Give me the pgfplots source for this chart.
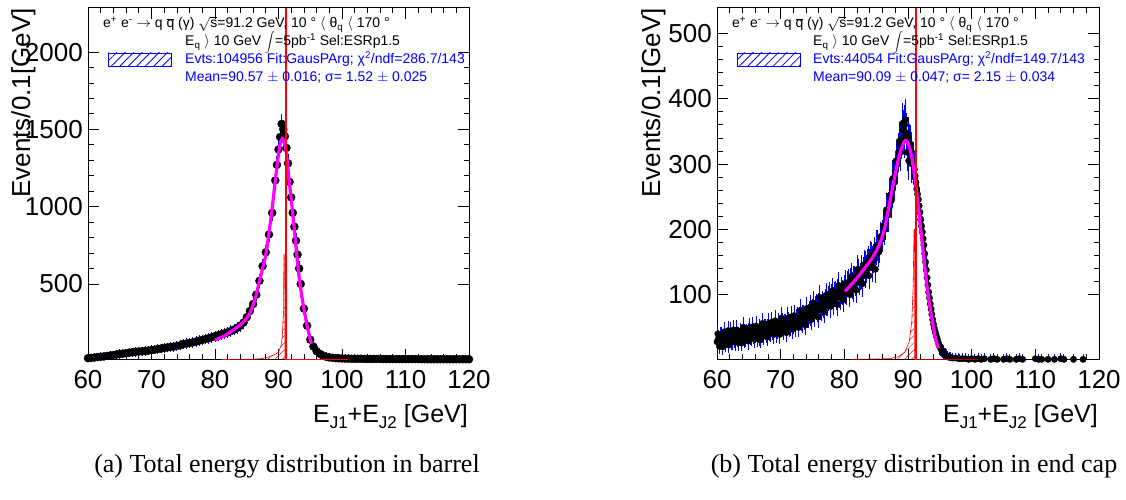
\documentclass[border=0pt]{standalone}
\usepackage{fontspec}
\setmainfont{Liberation Sans}
\newfontfamily\capfont{Liberation Serif}
\usepackage{pgfplots}
\usepackage{pgfplotstable}
\pgfplotsset{compat=1.18}
\usetikzlibrary{patterns,patterns.meta}

\newcommand\tickfont{\fontsize{26}{26}\selectfont}
\newcommand\legfont{\fontsize{14}{14}\selectfont}
\newcommand\labfont{\fontsize{25}{25}\selectfont}
\newcommand\labsub[1]{\raisebox{-6pt}{\fontsize{17}{17}\selectfont #1}}

\pgfplotstableread{
x y
60 20
60.5 22
61 24
61.5 27
62 29
62.5 31
63 34
63.5 37
64 40
64.5 44
65 47
65.5 49
66 52
66.5 55
67 58
67.5 61
68 63
68.5 64
69 66
69.5 69
70 72
70.5 75
71 79
71.5 82
72 86
72.5 89
73 92
73.5 95
74 99
74.5 103
75 112
75.5 114
76 118
76.5 122
77 127
77.5 133
78 138
78.5 143
79 149
79.5 155
80 162
80.5 168
81 174
81.5 180
82 187
82.5 195
83 205
83.5 216
84 230
84.5 250
85 285
85.5 325
86 370
86.5 430
87 520
87.5 615
88 705
88.5 820
89 960
89.5 1170
89.75 1270
90 1370
90.25 1450
90.5 1535
90.75 1500
91 1455
91.25 1380
91.5 1280
91.75 1160
92 1060
92.25 960
92.5 870
92.75 780
93 690
93.25 600
93.5 500
94 340
94.5 230
95 140
95.5 95
96 65
96.5 48
97 36
97.5 29
98 25
98.5 22
99 20
99.5 19
100 18
100.5 17
101 17
101.5 16
102 16
102.5 16
103 16
103.5 15
104 15
104.5 15
105 15
105.5 15
106 15
106.5 14
107 14
107.5 14
108 14
108.5 14
109 14
109.5 14
110 14
110.5 14
111 14
111.5 14
112 14
112.5 13
113 13
113.5 13
114 13
114.5 13
115 13
115.5 13
116 13
116.5 13
117 13
117.5 13
118 13
118.5 13
119 13
119.5 13
120 13
}\barrel

\pgfplotstableread{
x y
60.00 28
60.25 33
60.50 30
60.75 37
61.00 29
61.25 34
61.50 31
61.75 45
62.00 33
62.25 29
62.50 36
62.75 32
63.00 38
63.25 33
63.50 35
63.75 40
64.00 36
64.25 41
64.50 34
64.75 39
65.00 42
65.25 37
65.50 44
65.75 38
66.00 41
66.25 46
66.50 40
66.75 35
67.00 45
67.25 42
67.50 48
67.75 41
68.00 47
68.25 44
68.50 51
68.75 46
69.00 49
69.25 54
69.50 47
69.75 52
70.00 50
70.25 56
70.50 49
70.75 55
71.00 52
71.25 58
71.50 53
71.75 60
72.00 56
72.25 52
72.50 62
72.75 58
73.00 64
73.25 60
73.50 67
73.75 62
74.00 70
74.25 66
74.50 73
74.75 69
75.00 76
75.25 72
75.50 80
75.75 75
76.00 84
76.25 79
76.50 86
76.75 82
77.00 90
77.25 86
77.50 94
77.75 89
78.00 97
78.25 93
78.50 101
78.75 96
79.00 104
79.25 99
79.50 108
79.75 103
80.00 110
80.25 106
80.50 116
80.75 111
81.00 120
81.25 114
81.50 124
81.75 119
82.00 129
82.25 134
82.50 128
82.75 139
83.00 136
83.25 145
83.50 140
83.75 152
84.00 148
84.25 158
84.50 153
84.75 165
85.00 168
85.25 175
85.50 172
85.75 186
86.00 190
86.25 202
86.50 208
86.75 222
87.00 232
87.25 248
87.50 260
87.75 276
88.00 288
88.25 305
88.50 318
88.75 330
89.00 338
89.25 352
89.50 360
89.75 348
90.00 342
90.25 332
90.50 320
90.75 305
91.00 292
91.25 272
91.50 254
91.75 236
92.00 215
92.25 196
92.50 176
92.75 150
93.00 126
93.25 104
93.50 86
93.75 70
94.00 55
94.25 44
94.50 35
94.75 27
95.00 20
95.25 16
95.50 12
95.75 9
96.00 7
96.25 5
96.50 4
96.75 4
97.00 3
97.50 3
98.00 2
98.50 2
99.00 2
99.50 1
100.00 2
100.50 1
101.00 2
101.50 1
102.00 2
103.00 1
103.50 2
104.00 1
105.00 1
105.50 2
106.00 1
107.00 1
107.50 2
108.00 1
110.00 2
110.50 1
111.00 1
112.00 1
113.00 1
114.00 2
114.50 1
116.00 1
117.50 1
}\endcap

\pgfplotstableread{
x y
60.125 40
60.375 21
60.625 37
60.875 20
61.125 43
61.375 24
61.625 35
61.875 23
62.125 43
62.375 29
62.625 46
62.875 27
63.125 46
63.375 27
63.625 42
63.875 26
64.125 50
64.375 31
64.625 41
64.875 29
65.125 49
65.375 35
65.625 51
65.875 32
66.125 52
66.375 33
66.625 48
66.875 31
67.125 56
67.375 37
67.625 47
67.875 35
68.125 56
68.375 42
68.625 58
68.875 39
69.125 60
69.375 41
69.625 56
69.875 39
70.125 64
70.375 45
70.625 55
70.875 42
71.125 64
71.375 50
71.625 66
71.875 47
72.125 68
72.375 50
72.625 65
72.875 50
73.125 76
73.375 57
73.625 67
73.875 54
74.125 79
74.375 65
74.625 81
74.875 62
75.125 87
75.375 68
75.625 83
75.875 66
76.125 96
76.375 77
76.625 87
76.875 74
77.125 99
77.375 85
77.625 101
77.875 82
78.125 106
78.375 87
78.625 102
78.875 85
79.125 114
79.375 95
79.625 105
79.875 92
80.125 117
80.375 103
80.625 119
80.875 100
81.125 128
81.375 109
81.625 124
81.875 107
82.125 139
82.375 120
82.625 130
82.875 117
83.125 146
83.375 132
83.625 148
83.875 129
84.125 160
84.375 141
84.625 156
84.875 139
85.125 176
85.375 165
85.625 188
85.875 186
86.125 205
86.375 200
86.625 230
86.875 222
87.125 252
87.375 244
87.625 278
87.875 272
88.125 305
88.375 300
88.625 335
88.875 318
89.125 362
89.375 340
89.625 368
89.875 318
90.125 305
90.375 330
90.625 300
90.875 305
91.125 282
91.375 262
91.625 246
91.875 226
92.125 205
92.375 186
92.625 163
92.875 138
93.125 115
93.375 95
93.625 78
93.875 62
94.125 49
94.375 40
94.625 31
94.875 23
95.125 18
95.375 14
95.625 10
95.875 8
}\endcapb

\pgfplotsset{
  rootax/.style={
    scale only axis, anchor=south west,
    xmin=60, xmax=120, xtick={60,70,...,120}, minor x tick num=4,
    tick align=inside, xtick pos=both, ytick pos=both,
    xticklabel pos=lower, yticklabel pos=left,
    major tick length=11pt, minor tick length=5.5pt,
    tick style={black, line width=0.8pt},
    axis line style={line width=1pt},
    ticklabel style={font=\tickfont},
    /pgf/number format/assume math mode=true,
    /pgf/number format/1000 sep={},
    xticklabel style={anchor=north, inner sep=0pt, yshift=-10pt},
    yticklabel style={anchor=east, inner sep=0pt, xshift=-5pt},
  },
  overax/.style={scale only axis, anchor=south west, xmin=60, xmax=120, hide axis},
  dataplot/.style={only marks, mark=*, mark size=4pt, black,
    error bars/.cd, y dir=both, y explicit,
    error bar style={blue, line width=0.9pt},
    error mark options={blue, mark size=3.5pt, line width=0.9pt}},
  dataplotb/.style={only marks, mark=*, mark size=3.2pt, black,
    error bars/.cd, y dir=both, y explicit,
    error bar style={blue, line width=1pt},
    error mark options={blue, mark size=4pt, line width=1pt}},
  fitline/.style={color={rgb,255:red,255;green,0;blue,255}, line width=3.2pt, smooth},
}

\begin{document}
\begin{tikzpicture}[x=1pt,y=1pt]
\path[use as bounding box] (0,0) rectangle (1126,500);

% ---------- left panel ----------
\begin{axis}[rootax, at={(88pt,140pt)}, width=381pt, height=352pt,
  ymin=8, ymax=2285, ytick={500,1000,1500,2000}, minor y tick num=4]
\addplot[dataplot] table[x=x, y=y, y error expr=sqrt(\thisrow{y})] {\barrel};
\end{axis}
\begin{axis}[overax, at={(88pt,140pt)}, width=381pt, height=352pt, ymin=8, ymax=2285]
\addplot[fitline] coordinates {
(80.0,136) (81.5,165) (83.0,205) (84.5,255) (85.5,310) (86.0,365) (86.5,430)
(87.0,520) (87.5,600) (88.0,690) (88.5,830) (89.0,990) (89.5,1170) (90.0,1340)
(90.3,1410) (90.6,1440) (90.9,1420) (91.2,1360) (91.6,1200) (92.0,1050)
(92.4,890) (92.8,720) (93.2,560) (93.6,440) (94.0,340) (94.5,230) (95.0,140) (95.2,114)};
\addplot[red, line width=0.6pt, pattern={Lines[angle=45,distance=5pt,line width=0.5pt]}, pattern color=red]
coordinates {(81,11) (86,13) (87.5,18) (88.5,28) (89.5,45) (90,60) (90.4,100) (90.6,160)
(90.8,330) (90.85,690) (91.0,690) (91.0,11) (101,11)};
\addplot[red, line width=1.8pt] coordinates {(91.2,8) (91.2,2285)};
\end{axis}

% ---------- right panel ----------
\begin{axis}[rootax, at={(717pt,140pt)}, width=382pt, height=352pt,
  ymin=0, ymax=539, ytick={100,200,300,400,500}, minor y tick num=4]
\addplot[dataplotb] table[x=x, y=y, y error expr=1.3*sqrt(\thisrow{y})] {\endcap};
\addplot[dataplotb] table[x=x, y=y, y error expr=1.3*sqrt(\thisrow{y})] {\endcapb};
\end{axis}
\begin{axis}[overax, at={(717pt,140pt)}, width=382pt, height=352pt, ymin=0, ymax=539]
\addplot[fitline] coordinates {
(80.1,105) (81.5,120) (83.0,138) (84.5,158) (85.6,179) (86.4,205) (87.2,245)
(88.0,285) (88.6,312) (89.2,330) (89.6,336) (90.0,332) (90.5,315) (91.0,285)
(91.5,245) (92.0,200) (92.5,155) (93.0,112) (93.5,78) (94.0,50) (94.4,30) (94.8,18)};
\addplot[red, line width=0.6pt, pattern={Lines[angle=45,distance=5pt,line width=0.5pt]}, pattern color=red]
coordinates {(81,1) (87,2) (88.5,5) (89.5,12) (90.2,28) (90.6,60) (90.8,110)
(90.95,200) (91.05,200) (91.05,1) (101,1)};
\addplot[red, line width=1.8pt] coordinates {(91.2,0) (91.2,539)};
\end{axis}

% ---------- axis titles ----------
\node[rotate=90, anchor=base east, inner sep=0pt, font=\tickfont] at (30,492) {Events/0.1[GeV]};
\node[rotate=90, anchor=base east, inner sep=0pt, font=\tickfont] at (660,492) {Events/0.1[GeV]};
\node[anchor=base east, inner sep=0pt, font=\labfont] at (468,77) {E\labsub{J1}+E\labsub{J2} [GeV]};
\node[anchor=base east, inner sep=0pt, font=\labfont] at (1098,77) {E\labsub{J1}+E\labsub{J2} [GeV]};

% ---------- legend / info boxes ----------
\foreach \xa/\xb/\xr/\evts/\chi/\mean/\sig in {103/185/108/104956/286.7/90.57 $\pm$ 0.016/1.52 $\pm$ 0.025,
                                               732/813/737/44054/149.7/90.09 $\pm$ 0.047/2.15 $\pm$ 0.034}{
  \node[anchor=base west, inner sep=0pt, font=\legfont] at (\xa,472)
    {e\textsuperscript{+} e\textsuperscript{-} $\rightarrow$ q $\overline{\mbox{q}}$ (γ) $\sqrt{\mbox{s}}$=91.2 GeV, 10 ° $\langle$ θ\textsubscript{q} $\langle$ 170 °};
  \node[anchor=base west, inner sep=0pt, font=\legfont] at (\xb,454)
    {E\textsubscript{q} $\rangle$ 10 GeV $\displaystyle\int$=5pb\textsuperscript{-1} Sel:ESRp1.5};
  \node[anchor=base west, inner sep=0pt, font=\legfont, text=blue] at (\xb,436)
    {Evts:\evts\ Fit:GausPArg; χ\textsuperscript{2}/ndf=\chi/143};
  \node[anchor=base west, inner sep=0pt, font=\legfont, text=blue] at (\xb,418)
    {Mean=\mean; σ= \sig};
  \draw[blue, line width=0.8pt, pattern={Lines[angle=45,distance=6pt,line width=0.8pt]}, pattern color=blue]
    (\xr,434) rectangle ++(63,13);
}

% ---------- captions ----------
\node[anchor=base, inner sep=0pt, font=\capfont\fontsize{26}{26}\selectfont] at (287,27) {(a) Total energy distribution in barrel};
\node[anchor=base, inner sep=0pt, font=\capfont\fontsize{26}{26}\selectfont] at (914,27) {(b) Total energy distribution in end cap};
\end{tikzpicture}
\end{document}
